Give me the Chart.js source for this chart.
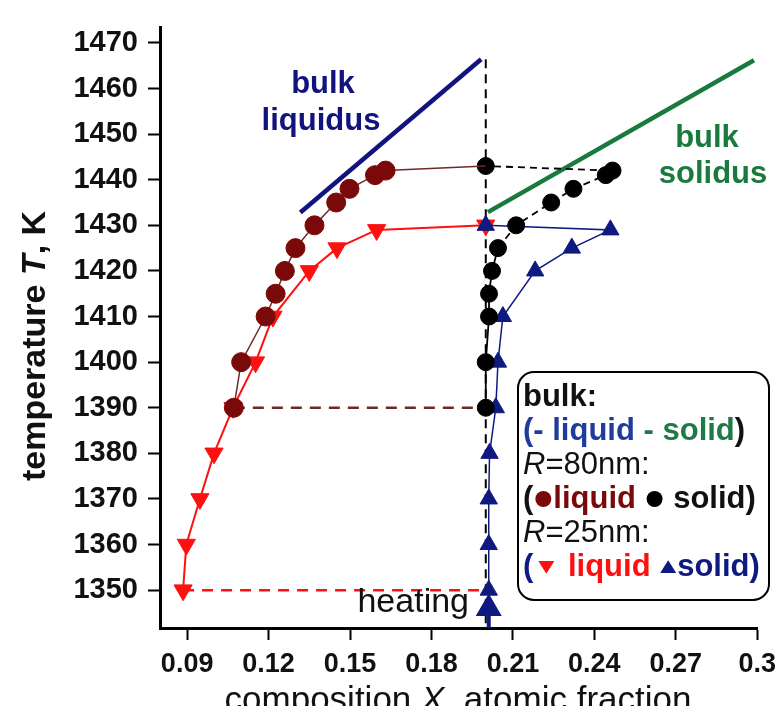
<!DOCTYPE html>
<html><head><meta charset="utf-8">
<script src="https://cdn.jsdelivr.net/npm/chart.js@4"></script>
<style>html,body{margin:0;padding:0;overflow:hidden;background:#fff;width:784px;height:706px}canvas{display:block}</style>
</head><body>
<canvas id="c" width="784" height="730"></canvas>
<script>
// ---- data ----
const xTicks = [0.09, 0.12, 0.15, 0.18, 0.21, 0.24, 0.27, 0.3];
const yTicks = [1350, 1360, 1370, 1380, 1390, 1400, 1410, 1420, 1430, 1440, 1450, 1460, 1470];

const bulkLiquidusX = [0.1317, 0.1983];
const bulkLiquidusT = [1432.8, 1466.4];
const bulkSolidusX = [0.2008, 0.2988];
const bulkSolidusT = [1432.9, 1466.2];

const r80LiquidX = [0.1072, 0.1099, 0.1189, 0.1226, 0.1260, 0.1299, 0.1369, 0.1449, 0.1498, 0.1592, 0.1631];
const r80LiquidT = [1390, 1400, 1410, 1415, 1420, 1425, 1430, 1435, 1438, 1441, 1442];
const r80SolidX = [0.2000, 0.2000, 0.2012, 0.2012, 0.2023, 0.2045, 0.2112, 0.2241, 0.2323, 0.2442, 0.2467];
const r80SolidT = [1390, 1400, 1410, 1415, 1420, 1425, 1430, 1435, 1438, 1441, 1442];
const r80PlateauX = [0.2000];
const r80PlateauT = [1443];

const r25LiquidX = [0.0885, 0.0897, 0.0947, 0.0999, 0.1069, 0.1152, 0.1216, 0.1350, 0.1452, 0.1598, 0.2000];
const r25LiquidT = [1350, 1360, 1370, 1380, 1390, 1400, 1410, 1420, 1425, 1429, 1430];
const r25SolidX = [0.2011, 0.2011, 0.2011, 0.2014, 0.2037, 0.2045, 0.2063, 0.2182, 0.2317, 0.2459, 0.2000];
const r25SolidT = [1350, 1360, 1370, 1380, 1390, 1400, 1410, 1420, 1425, 1429, 1430];

const guideX = [0.2000, 0.2000];
const guideT = [1466.4, 1341.7];
const tie80X = [0.1072, 0.2000];
const tie80T = [1390, 1390];
const tie25X = [0.0885, 0.2000];
const tie25T = [1350, 1350];
const heatingX = [0.2011, 0.2011];
const heatingT = [1341.7, 1346];

const xRange = [0.08, 0.3];
const yRange = [1341.7, 1473.4];

// ---- helpers ----
const pts = (xs, ts) => xs.map((x, i) => ({x: x, y: ts[i]}));
const FONT = "'Liberation Sans', Arial, Helvetica, sans-serif";
Chart.defaults.font.family = FONT;

const NAVY = '#13137f', GREEN = '#1a7a3e', BROWN = '#7a0a0a', RED = '#ff1010', TRI_NAVY = '#0f1a80';

const r80Liquid = pts(r80LiquidX, r80LiquidT).concat(pts(r80PlateauX, r80PlateauT));
const r80Solid = pts(r80SolidX, r80SolidT).concat(pts(r80PlateauX, r80PlateauT));

const datasets = [
  {label: 'guide', data: pts(guideX, guideT), borderColor: '#000', borderWidth: 2, borderDash: [9, 6], pointRadius: 0, order: 20},
  {label: 'tie80', data: pts(tie80X, tie80T), borderColor: '#6b2a2a', borderWidth: 2.5, borderDash: [11, 8], pointRadius: 0, order: 19},
  {label: 'tie25', data: pts(tie25X, tie25T), borderColor: RED, borderWidth: 2.5, borderDash: [11, 8], pointRadius: 0, order: 18},
  {label: 'bulk liquidus', data: pts(bulkLiquidusX, bulkLiquidusT), borderColor: NAVY, borderWidth: 4.5, pointRadius: 0, order: 17},
  {label: 'bulk solidus', data: pts(bulkSolidusX, bulkSolidusT), borderColor: GREEN, borderWidth: 4.5, pointRadius: 0, order: 16},
  {label: 'R25 liquid', data: pts(r25LiquidX, r25LiquidT), borderColor: RED, borderWidth: 2, backgroundColor: RED,
    pointStyle: 'triangle', pointRotation: 180, pointRadius: 10.5, pointBorderWidth: 1, pointBackgroundColor: RED, pointBorderColor: RED, order: 10},
  {label: 'R25 solid', data: pts(r25SolidX, r25SolidT), borderColor: TRI_NAVY, borderWidth: 1.5,
    pointStyle: 'triangle', pointRadius: 10, pointBorderWidth: 1, pointBackgroundColor: TRI_NAVY, pointBorderColor: TRI_NAVY, order: 9},
  {label: 'R80 solid', data: r80Solid, borderColor: '#000', borderWidth: 1.8,
    segment: {borderDash: c => (c.p0.parsed.y >= 1425 ? [7, 5] : undefined)},
    pointStyle: 'circle', pointRadius: 8.5, pointBorderWidth: 1, pointBackgroundColor: '#000', pointBorderColor: '#000', order: 8},
  {label: 'R80 liquid', data: r80Liquid, borderColor: '#6e2a2a', borderWidth: 1.5,
    pointStyle: 'circle', pointRadius: r80Liquid.map((p, i) => i < r80LiquidX.length ? 9.5 : 0), pointBorderWidth: 1,
    pointBackgroundColor: BROWN, pointBorderColor: BROWN, order: 7},
  {label: 'heating', data: pts(heatingX, heatingT), borderColor: TRI_NAVY, borderWidth: 4,
    pointStyle: 'triangle', pointRadius: [0, 11], pointBackgroundColor: TRI_NAVY, pointBorderColor: TRI_NAVY, order: 6}
];

function mixed(ctx, runs, x, y) {
  for (const r of runs) {
    if (r.shape) {
      const cx = x + r.w / 2;
      ctx.fillStyle = r.color;
      ctx.beginPath();
      if (r.shape === 'circle') {
        ctx.arc(cx, y, r.size, 0, Math.PI * 2);
      } else if (r.shape === 'down') {
        ctx.moveTo(cx - r.size, y - r.size * 0.75);
        ctx.lineTo(cx + r.size, y - r.size * 0.75);
        ctx.lineTo(cx, y + r.size * 0.85);
        ctx.closePath();
      } else {
        ctx.moveTo(cx - r.size, y + r.size * 0.75);
        ctx.lineTo(cx + r.size, y + r.size * 0.75);
        ctx.lineTo(cx, y - r.size * 0.85);
        ctx.closePath();
      }
      ctx.fill();
      x += r.w;
      continue;
    }
    ctx.font = r.font;
    ctx.fillStyle = r.color;
    ctx.fillText(r.t, x, y);
    x += ctx.measureText(r.t).width;
  }
  return x;
}
function runsWidth(ctx, runs) {
  let w = 0;
  for (const r of runs) { if (r.shape) { w += r.w; } else { ctx.font = r.font; w += ctx.measureText(r.t).width; } }
  return w;
}

const annotations = {
  id: 'annotations',
  afterDraw(chart) {
    const ctx = chart.ctx;
    ctx.save();
    ctx.textBaseline = 'alphabetic';
    ctx.textAlign = 'center';
    // bulk liquidus / solidus labels
    ctx.font = 'bold 31px ' + FONT;
    ctx.fillStyle = NAVY;
    ctx.fillText('bulk', 323, 93);
    ctx.fillText('liquidus', 321, 130);
    ctx.fillStyle = GREEN;
    ctx.fillText('bulk', 707, 147);
    ctx.fillText('solidus', 713, 183);
    // heating
    ctx.textAlign = 'right';
    ctx.font = '34px ' + FONT;
    ctx.fillStyle = '#111';
    ctx.fillText('heating', 469, 612);

    // axis titles (with italic symbols)
    ctx.textAlign = 'left';
    const xt = [
      {t: 'composition ', font: '35px ' + FONT, color: '#111'},
      {t: 'X', font: 'italic 35px ' + FONT, color: '#111'},
      {t: ', atomic fraction', font: '35px ' + FONT, color: '#111'}
    ];
    const xw = runsWidth(ctx, xt);
    mixed(ctx, xt, 458 - xw / 2, 711);

    const yt = [
      {t: 'temperature ', font: 'bold 34px ' + FONT, color: '#111'},
      {t: 'T', font: 'bold italic 34px ' + FONT, color: '#111'},
      {t: ', K', font: 'bold 34px ' + FONT, color: '#111'}
    ];
    const yw = runsWidth(ctx, yt);
    ctx.save();
    ctx.translate(45, 346);
    ctx.rotate(-Math.PI / 2);
    mixed(ctx, yt, -yw / 2, 0);
    ctx.restore();

    // legend box
    const bx = 518, by = 372, bw = 251, bh = 228, rad = 16;
    ctx.beginPath();
    ctx.roundRect(bx, by, bw, bh, rad);
    ctx.fillStyle = '#fff';
    ctx.fill();
    ctx.lineWidth = 2;
    ctx.strokeStyle = '#000';
    ctx.stroke();

    ctx.textBaseline = 'middle';
    const B = 'bold 31px ' + FONT, N = '31px ' + FONT, I = 'italic 31px ' + FONT;
    const LB = '#1f3c9c', LG = '#1e7b46';
    const lx = 523;
    mixed(ctx, [{t: 'bulk:', font: B, color: '#111'}], lx, 397);
    mixed(ctx, [{t: '(- liquid', font: B, color: LB}, {t: ' - solid', font: B, color: LG}, {t: ')', font: B, color: '#111'}], lx, 431);
    mixed(ctx, [{t: 'R', font: I, color: '#111'}, {t: '=80nm:', font: N, color: '#111'}], lx, 465);
    mixed(ctx, [{t: '(', font: B, color: '#111'}, {shape: 'circle', size: 8, w: 20, color: BROWN}, {t: 'liquid ', font: B, color: BROWN},
      {shape: 'circle', size: 8, w: 20, color: '#000'}, {t: ' solid)', font: B, color: '#111'}], lx, 499);
    mixed(ctx, [{t: 'R', font: I, color: '#111'}, {t: '=25nm:', font: N, color: '#111'}], lx, 533);
    mixed(ctx, [{t: '(', font: B, color: TRI_NAVY}, {shape: 'down', size: 8, w: 26, color: RED}, {t: ' liquid ', font: B, color: RED},
      {shape: 'up', size: 8, w: 18, color: TRI_NAVY}, {t: 'solid)', font: B, color: TRI_NAVY}], lx, 567);
    ctx.restore();
  }
};

new Chart(document.getElementById('c'), {
  type: 'scatter',
  data: {datasets: datasets.map(d => Object.assign({showLine: true, fill: false, tension: 0}, d))},
  options: {
    responsive: false,
    animation: false,
    devicePixelRatio: 1,
    layout: {padding: {top: 25, right: 22, bottom: 0, left: 0}},
    plugins: {legend: {display: false}, tooltip: {enabled: false}},
    scales: {
      x: {
        type: 'linear', min: xRange[0], max: xRange[1],
        afterBuildTicks: s => { s.ticks = xTicks.map(v => ({value: v})); },
        afterFit: s => { s.height = 102; },
        ticks: {color: '#111', font: {size: 27, weight: 'bold'}, padding: 8, maxRotation: 0, autoSkip: false,
          callback: v => String(+Number(v).toFixed(2))},
        grid: {drawOnChartArea: false, drawTicks: true, tickLength: 12, tickWidth: 2, tickColor: '#000'},
        border: {display: true, color: '#000', width: 3},
        title: {display: false}
      },
      y: {
        type: 'linear', min: yRange[0], max: yRange[1],
        afterBuildTicks: s => { s.ticks = yTicks.map(v => ({value: v})); },
        afterFit: s => { s.width = 160; },
        ticks: {color: '#111', font: {size: 29, weight: 'bold'}, padding: 10, autoSkip: false,
          callback: v => String(Math.round(v))},
        grid: {drawOnChartArea: false, drawTicks: true, tickLength: 12, tickWidth: 2, tickColor: '#000'},
        border: {display: true, color: '#000', width: 3},
        title: {display: false}
      }
    }
  },
  plugins: [annotations]
});
</script>
</body></html>
